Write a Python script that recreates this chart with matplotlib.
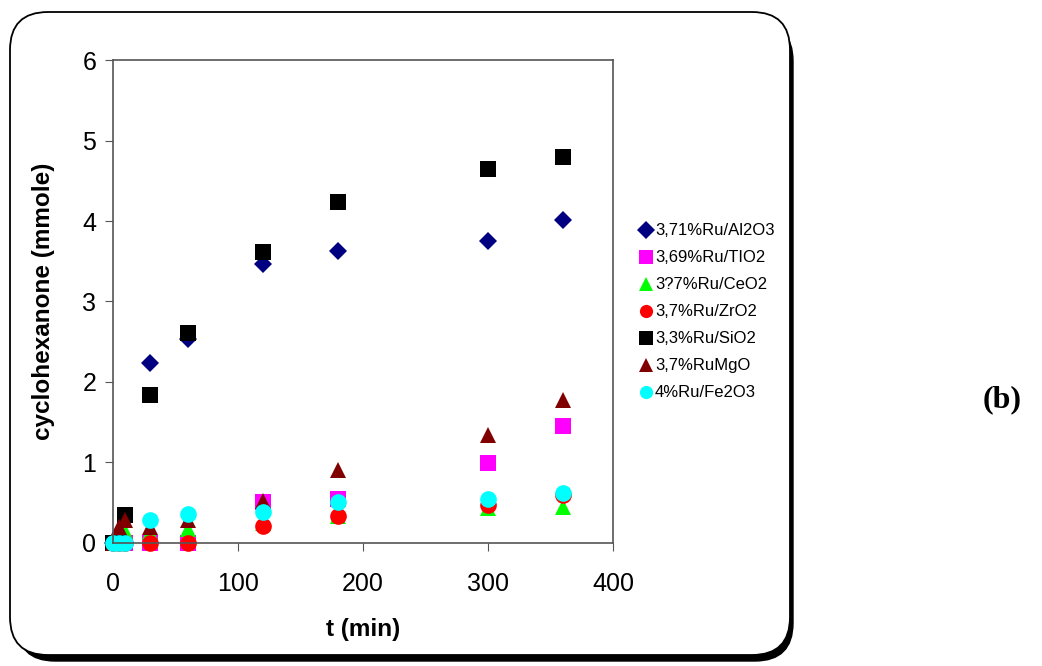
import matplotlib
matplotlib.use('Agg')
import matplotlib.pyplot as plt
from matplotlib.patches import FancyBboxPatch

# temps de réaction (min)
t = [0, 5, 10, 30, 60, 120, 180, 300, 360]

# cyclohexanone (mmole) par catalyseur
al2o3 = [0, 0, 0, 2.23, 2.54, 3.47, 3.63, 3.75, 4.01]
tio2 = [0, 0, 0, 0, 0, 0.51, 0.55, 0.99, 1.45]
ceo2 = [0, 0.05, 0.15, 0.14, 0.18, 0.25, 0.33, 0.43, 0.45]
zro2 = [0, 0, 0, 0, 0, 0.21, 0.34, 0.47, 0.60]
sio2 = [0, 0, 0.35, 1.84, 2.61, 3.61, 4.23, 4.65, 4.79]
mgo = [0, 0.20, 0.28, 0.20, 0.28, 0.52, 0.91, 1.34, 1.78]
fe2o3 = [0, 0, 0, 0.29, 0.36, 0.39, 0.51, 0.55, 0.62]

labels = ['3,71%Ru/Al2O3', '3,69%Ru/TIO2', '3?7%Ru/CeO2', '3,7%Ru/ZrO2',
          '3,3%Ru/SiO2', '3,7%RuMgO', '4%Ru/Fe2O3']

plt.rcParams['font.family'] = ['Liberation Sans', 'DejaVu Sans']

fig = plt.figure(figsize=(10.42, 6.66), dpi=100)

# cadre arrondi avec ombre
shadow = FancyBboxPatch((0.17, 0.05), 7.76, 6.38, boxstyle='round,pad=0,rounding_size=0.38',
                        transform=fig.dpi_scale_trans, facecolor='black', edgecolor='black',
                        zorder=0)
frame = FancyBboxPatch((0.10, 0.11), 7.80, 6.43, boxstyle='round,pad=0,rounding_size=0.38',
                       transform=fig.dpi_scale_trans, facecolor='white', edgecolor='black',
                       linewidth=1.3, zorder=1)
fig.patches.append(shadow)
fig.patches.append(frame)

ax = fig.add_axes([0.1084, 0.1847, 0.48, 0.7252])
ax.set_zorder(2)

series = [al2o3, tio2, ceo2, zro2, sio2, mgo, fe2o3]
markers = ['D', 's', '^', 'o', 's', '^', 'o']
colors = ['#000080', '#FF00FF', '#00FF00', '#FF0000', '#000000', '#800000', '#00FFFF']
sizes = [9, 11, 11, 12, 11.5, 11, 12]

for y, m, c, s, lab in zip(series, markers, colors, sizes, labels):
    ax.plot(t, y, linestyle='none', marker=m, color=c, markersize=s,
            markeredgewidth=0, label=lab, clip_on=False)

ax.set_xlim(0, 400)
ax.set_ylim(0, 6)
ax.set_xticks([0, 100, 200, 300, 400])
ax.set_yticks([0, 1, 2, 3, 4, 5, 6])
ax.tick_params(direction='out', labelsize=18, length=6, color='#555555')
ax.tick_params(axis='x', pad=15)
ax.tick_params(axis='y', pad=6)
for sp in ax.spines.values():
    sp.set_color('#555555')
    sp.set_linewidth(1.2)

ax.set_xlabel('t (min)', fontsize=17.5, fontweight='bold', labelpad=16)
ax.set_ylabel('cyclohexanone (mmole)', fontsize=17.5, fontweight='bold', labelpad=20)

leg_handles = []
for m, c in zip(markers, colors):
    h, = ax.plot([], [], linestyle='none', marker=m, color=c, markersize=9.5,
                 markeredgewidth=0)
    leg_handles.append(h)
fig.legend(leg_handles, labels, loc='upper left', bbox_to_anchor=(0.599, 0.687),
           frameon=False, fontsize=12, handlelength=0.8, handletextpad=0.15,
           labelspacing=0.72)

fig.text(0.962, 0.40, '(b)', fontsize=23, fontweight='bold',
         family=['Liberation Serif', 'DejaVu Serif'], ha='center', va='center')

fig.savefig('out.png', dpi=100)
